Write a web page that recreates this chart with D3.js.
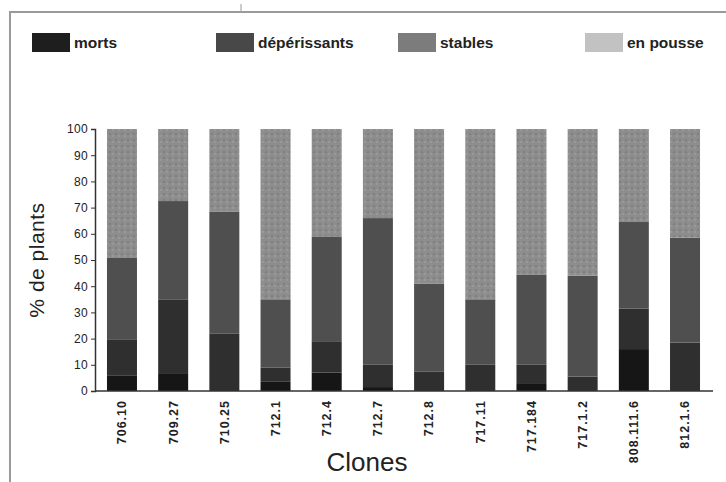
<!DOCTYPE html>
<html>
<head>
<meta charset="utf-8">
<script src="https://cdn.jsdelivr.net/npm/d3@7/dist/d3.min.js"></script>
<style>
  html, body { margin: 0; padding: 0; background: #fff; }
  svg { display: block; }
  text { font-family: "Liberation Sans", Arial, sans-serif; fill: #222; }
</style>
</head>
<body>
<svg id="chart" width="726" height="482"></svg>
<script>
// Clones and the share of plants (%) in each condition class
const clones = ["706.10", "709.27", "710.25", "712.1", "712.4", "712.7",
                "712.8", "717.11", "717.184", "717.1.2", "808.111.6", "812.1.6"];
const morts        = [6,    6.5,  0,    3.5,  7,    1.5,  0,    0,    3,    0,    16,   0];
const deperissants = [13.5, 28.5, 22,   5.5,  12,   8.5,  7.5,  10,   7,    5.5,  15.5, 18.5];
const stables      = [31.5, 37.5, 46.5, 26,   40,   56,   33.5, 25,   34.5, 38.5, 33,   40];
const enPousse     = [49,   27.5, 31.5, 65,   41,   34,   59,   65,   55.5, 56,   35.5, 41.5];

const seriesNames  = ["morts", "dépérissants", "stables", "en pousse"];
const yTicks       = [0, 10, 20, 30, 40, 50, 60, 70, 80, 90, 100];

const barColors    = ["#161616", "#2f2f2f", "#4f4f4f", "#8d8d8d"];
const legendColors = ["#1e1e1e", "#484848", "#7c7c7c", "#c2c2c2"];

const rows = clones.map((c, i) => ({
  clone: c,
  "morts": morts[i],
  "dépérissants": deperissants[i],
  "stables": stables[i],
  "en pousse": enPousse[i]
}));

const svg = d3.select("#chart");

// page frame
svg.append("line").attr("x1", 10).attr("x2", 10).attr("y1", 11).attr("y2", 482)
  .attr("stroke", "#9a9a9a").attr("stroke-width", 2);
svg.append("line").attr("x1", 9).attr("x2", 726).attr("y1", 12).attr("y2", 12)
  .attr("stroke", "#9a9a9a").attr("stroke-width", 2);
svg.append("line").attr("x1", 241).attr("x2", 241).attr("y1", 4).attr("y2", 12)
  .attr("stroke", "#aaa").attr("stroke-width", 1.2);

const x = d3.scaleBand().domain(clones).range([95, 712])
  .paddingInner(0.414).paddingOuter(0.234);
const y = d3.scaleLinear().domain([0, 100]).range([391, 129]);

const layers = d3.stack().keys(seriesNames)(rows);

// speckled fill for the top segments
const defs = svg.append("defs");
const pat = defs.append("pattern").attr("id", "speckle")
  .attr("width", 6).attr("height", 6).attr("patternUnits", "userSpaceOnUse");
pat.append("rect").attr("width", 6).attr("height", 6).attr("fill", barColors[3]);
pat.append("rect").attr("x", 1).attr("y", 1).attr("width", 2).attr("height", 2).attr("fill", "#7f7f7f");
pat.append("rect").attr("x", 4).attr("y", 3).attr("width", 2).attr("height", 2).attr("fill", "#999");

svg.append("g").selectAll("g")
  .data(layers)
  .join("g")
  .attr("fill", (d, i) => i === 3 ? "url(#speckle)" : barColors[i])
  .selectAll("rect")
  .data(d => d)
  .join("rect")
  .attr("x", d => x(d.data.clone))
  .attr("width", x.bandwidth())
  .attr("y", d => y(d[1]))
  .attr("height", d => y(d[0]) - y(d[1]));

// y axis
const yAxis = svg.append("g").attr("transform", "translate(95,0)")
  .call(d3.axisLeft(y).tickValues(yTicks).tickSize(4).tickPadding(3));
yAxis.select(".domain").attr("stroke", "#333").attr("stroke-width", 1.5);
yAxis.selectAll(".tick line").attr("stroke", "#333");
yAxis.selectAll(".tick text").attr("font-size", 12).attr("fill", "#222")
  .attr("letter-spacing", "0.3px")
  .attr("font-family", "Liberation Sans, Arial");

// x axis
const xAxis = svg.append("g").attr("transform", "translate(0,391)")
  .call(d3.axisBottom(x).tickSize(0).tickPadding(0));
xAxis.select(".domain").attr("stroke", "#333").attr("stroke-width", 1.5)
  .attr("d", "M95,0H713");
xAxis.selectAll(".tick text")
  .attr("font-size", 12.5).attr("font-weight", "bold").attr("fill", "#222")
  .attr("letter-spacing", "1px")
  .attr("font-family", "Liberation Sans, Arial")
  .attr("text-anchor", "end")
  .attr("dy", "0.35em")
  .attr("transform", "translate(0,9) rotate(-90)")
  .attr("x", 0).attr("y", 0);

// axis titles
svg.append("text").attr("transform", "translate(44,260) rotate(-90)")
  .attr("text-anchor", "middle").attr("font-size", 21).attr("letter-spacing", "0.5px")
  .text("% de plants");
svg.append("text").attr("x", 367).attr("y", 471)
  .attr("text-anchor", "middle").attr("font-size", 26).text("Clones");

// legend
const legendX = [32, 216, 398, 585];
const lg = svg.append("g").selectAll("g").data(seriesNames).join("g")
  .attr("transform", (d, i) => `translate(${legendX[i]},33)`);
lg.append("rect").attr("width", 38).attr("height", 19)
  .attr("fill", (d, i) => legendColors[i]);
lg.append("text").attr("x", 42).attr("y", 15).attr("font-size", 15.5)
  .attr("font-weight", "bold").text(d => d);
</script>
</body>
</html>
